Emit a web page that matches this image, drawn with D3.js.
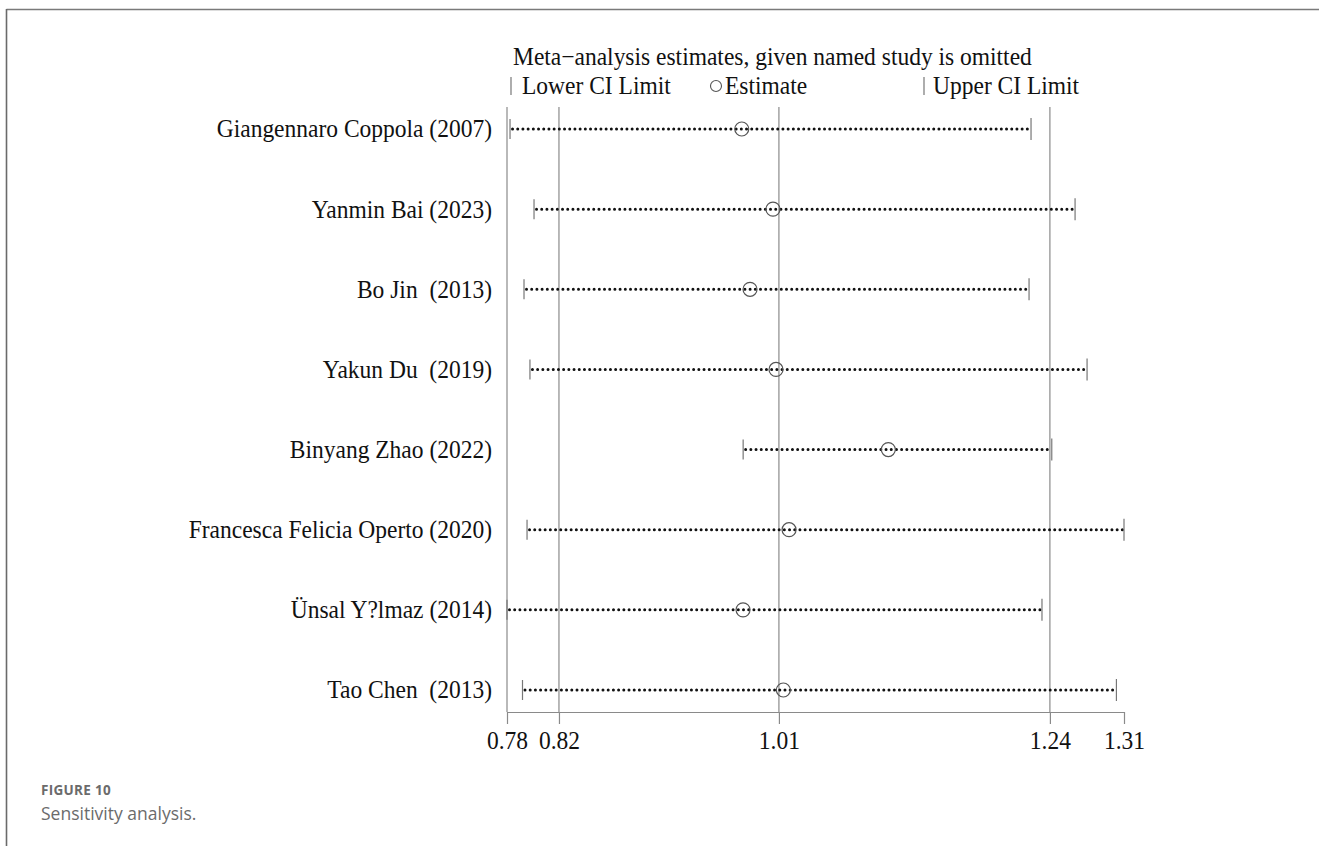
<!DOCTYPE html>
<html>
<head>
<meta charset="utf-8">
<script src="https://cdn.jsdelivr.net/npm/d3@7"></script>
<style>
  html, body { margin: 0; padding: 0; background: #fff; }
  svg { display: block; }
  text { white-space: pre; }
</style>
</head>
<body>
<svg id="chart" width="1319" height="846"></svg>
<script>
// ---- data ----
const studies = [
  "Giangennaro Coppola (2007)",
  "Yanmin Bai (2023)",
  "Bo Jin  (2013)",
  "Yakun Du  (2019)",
  "Binyang Zhao (2022)",
  "Francesca Felicia Operto (2020)",
  "Ünsal Y?lmaz (2014)",
  "Tao Chen  (2013)"
];
const lowerCI   = [0.7798, 0.8004, 0.7918, 0.7969, 0.9799, 0.7944, 0.7772, 0.7905];
const estimates = [0.9787, 1.0055, 0.9858, 1.0081, 1.1045, 1.0193, 0.9798, 1.0144];
const upperCI   = [1.2270, 1.2648, 1.2253, 1.2751, 1.2448, 1.3068, 1.2364, 1.3003];
const tickValues = [0.7772, 0.8218, 1.0106, 1.2432, 1.3068];
const tickLabels = ["0.78", "0.82", "1.01", "1.24", "1.31"];
const refLines = [0.8218, 1.0106, 1.2432];   // combined lower CI, estimate, upper CI
const titleText = "Meta\u2212analysis estimates, given named study is omitted";
const legendLabels = ["Lower CI Limit", "Estimate", "Upper CI Limit"];
const captionLabel = "FIGURE 10";
const captionText = "Sensitivity analysis.";

// ---- layout ----
const svg = d3.select("#chart");
const serif = "'Liberation Serif', 'Times New Roman', serif";
const fs = 23.5, stretch = 1.06;
const plotLeft = 507, plotRight = 1124, plotTop = 107, plotBottom = 712;

const x = d3.scaleLinear().domain([tickValues[0], tickValues[tickValues.length - 1]])
  .range([plotLeft, plotRight]);
const y = d3.scalePoint().domain(studies).range([plotTop + 22, plotBottom - 22]);

function serifText(sel, tx, ty, anchor, txt) {
  return sel.append("text")
    .attr("transform", `translate(${tx},${ty}) scale(1,${stretch})`)
    .attr("text-anchor", anchor).attr("dy", "0.34em")
    .attr("xml:space", "preserve")
    .attr("font-family", serif).attr("font-size", fs).attr("fill", "#111").text(txt);
}

// frame
svg.append("line").attr("x1", 6.5).attr("x2", 1319).attr("y1", 9.5).attr("y2", 9.5)
  .attr("stroke", "#7a7a7a").attr("stroke-width", 1.6);
svg.append("line").attr("x1", 6.5).attr("x2", 6.5).attr("y1", 9).attr("y2", 846)
  .attr("stroke", "#6a6a6a").attr("stroke-width", 1.6);

// left axis line and reference lines
svg.append("line").attr("x1", plotLeft).attr("x2", plotLeft)
  .attr("y1", plotTop).attr("y2", plotBottom)
  .attr("stroke", "#8a8a8a").attr("stroke-width", 1.2);
svg.selectAll("line.ref").data(refLines).join("line").attr("class", "ref")
  .attr("x1", d => x(d)).attr("x2", d => x(d))
  .attr("y1", plotTop).attr("y2", plotBottom)
  .attr("stroke", "#8a8a8a").attr("stroke-width", 1.2);

// bottom axis
const axis = d3.axisBottom(x).tickValues(tickValues)
  .tickFormat((d, i) => tickLabels[i]).tickSize(12).tickSizeOuter(0).tickPadding(6);
const gAxis = svg.append("g").attr("transform", `translate(0,${plotBottom})`).call(axis);
gAxis.select(".domain").attr("stroke", "#8a8a8a").attr("stroke-width", 1.2);
gAxis.selectAll(".tick line").attr("stroke", "#8a8a8a").attr("stroke-width", 1.2);
gAxis.selectAll(".tick text").attr("font-family", serif).attr("font-size", fs)
  .attr("fill", "#111").attr("y", 0).attr("dy", "0.34em")
  .attr("transform", `translate(0,29) scale(1,${stretch})`);

// rows
const rows = svg.append("g").selectAll("g").data(studies).join("g");
rows.each(function (d) { serifText(d3.select(this), 492, y(d), "end", d); });
rows.append("line")
  .attr("x1", (d, i) => x(lowerCI[i]) + 2.5).attr("x2", (d, i) => x(upperCI[i]))
  .attr("y1", d => y(d)).attr("y2", d => y(d))
  .attr("stroke", "#111").attr("stroke-width", 3)
  .attr("stroke-linecap", "round").attr("stroke-dasharray", "0 5.2");
rows.append("line")
  .attr("x1", (d, i) => x(lowerCI[i])).attr("x2", (d, i) => x(lowerCI[i]))
  .attr("y1", d => y(d) - 10).attr("y2", d => y(d) + 10)
  .attr("stroke", "#777").attr("stroke-width", 1.2);
rows.append("line")
  .attr("x1", (d, i) => x(upperCI[i])).attr("x2", (d, i) => x(upperCI[i]))
  .attr("y1", d => y(d) - 11).attr("y2", d => y(d) + 11)
  .attr("stroke", "#777").attr("stroke-width", 1.2);
rows.append("circle")
  .attr("cx", (d, i) => x(estimates[i])).attr("cy", d => y(d)).attr("r", 7)
  .attr("fill", "none").attr("stroke", "#555").attr("stroke-width", 1.2);

// title and legend
serifText(svg, 513, 57, "start", titleText);
const legY = 86;
svg.append("line").attr("x1", 511).attr("x2", 511).attr("y1", legY - 9).attr("y2", legY + 9)
  .attr("stroke", "#777").attr("stroke-width", 1.2);
serifText(svg, 522, legY, "start", legendLabels[0]);
svg.append("circle").attr("cx", 716).attr("cy", legY).attr("r", 5.5)
  .attr("fill", "none").attr("stroke", "#555").attr("stroke-width", 1.1);
serifText(svg, 725, legY, "start", legendLabels[1]);
svg.append("line").attr("x1", 924).attr("x2", 924).attr("y1", legY - 9).attr("y2", legY + 9)
  .attr("stroke", "#777").attr("stroke-width", 1.2);
serifText(svg, 933, legY, "start", legendLabels[2]);

// caption
svg.append("text").attr("x", 41).attr("y", 795)
  .attr("font-family", "'Open Sans', sans-serif").attr("font-weight", 700)
  .attr("font-size", 13.5).attr("letter-spacing", 0.3).attr("fill", "#6b6b6b").text(captionLabel);
svg.append("text").attr("x", 41).attr("y", 820)
  .attr("font-family", "'Open Sans', sans-serif")
  .attr("font-size", 17.5).attr("fill", "#6b6b6b").text(captionText);
</script>
</body>
</html>
